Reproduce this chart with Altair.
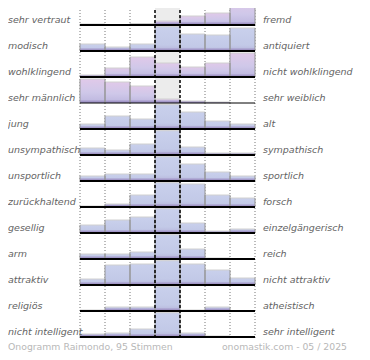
import altair as alt
import pandas as pd

left_labels = ["sehr vertraut", "modisch", "wohlklingend", "sehr männlich", "\u2004jung",
               "unsympathisch", "unsportlich", "zurückhaltend", "gesellig", "arm",
               "attraktiv", "religiös", "nicht intelligent"]
right_labels = ["fremd", "antiquiert", "nicht wohlklingend", "sehr weiblich", "alt",
                "sympathisch", "sportlich", "forsch", "einzelgängerisch", "reich",
                "nicht attraktiv", "atheistisch", "sehr intelligent"]
# bar heights for the 7 answer columns of each row (row height = 26 units; tall bars are clipped)
shares = [
    [1, 0, 1.5, 4, 9, 12, 24],
    [7, 4, 7, 30, 17, 16, 23],
    [2, 9, 20, 14, 10, 14, 24],
    [24, 21, 17, 4, 2, 1, 0],
    [5, 13, 10, 30, 17, 8, 5],
    [7, 5, 11, 30, 8, 2, 2],
    [5, 7, 7, 30, 17, 9, 5],
    [1, 3, 12, 30, 23, 12, 9],
    [8, 13, 16, 30, 10, 2, 4],
    [5, 5, 7, 30, 10, 1, 0],
    [6, 20, 21, 30, 21, 15, 7],
    [1, 4, 4, 30, 1, 4, 0.5],
    [3, 4, 8, 30, 4, 1, 0],
]
pink_rows = [0, 2, 3]
footer_left = "Onogramm Raimondo, 95 Stimmen"
footer_right = "onomastik.com - 05 / 2025"

W, H = 354, 344
ROW = 26.0
CLIP = 24.3
n_rows = len(left_labels)

recs = []
for r, vals in enumerate(shares):
    for c, v in enumerate(vals):
        h = min(v, CLIP)
        recs.append(dict(row=r, col=c, col_end=c + 1, value=v, base=r + 1,
                         top=r + 1 - h / ROW, strip=r + 1 - min(h, 2.5) / ROW,
                         pink=(r in pink_rows), has=(v > 0)))
bars = pd.DataFrame(recs)

xs = alt.Scale(domain=[-72 / 25, (W - 72) / 25], nice=False, zero=False)
ys = alt.Scale(domain=[1 - 17 / ROW, 1 + (H - 17) / ROW], reverse=True, nice=False, zero=False)
y_top = 1 - 17 / ROW - 0.5
y_bottom = n_rows + 3 / ROW


def X(f):
    return alt.X(f, type="quantitative", scale=xs, axis=None)


def Y(f):
    return alt.Y(f, type="quantitative", scale=ys, axis=None)


base = alt.Chart(bars)

# grey middle column
mid_df = pd.DataFrame([dict(x=3, x2=4, y=y_top, y2=n_rows)])
mid = alt.Chart(mid_df).mark_rect(color="#ececec").encode(
    x=X("x"), x2="x2", y=Y("y"), y2="y2")

# dotted column lines
dot_df = pd.DataFrame([dict(x=c, y=y_top, y2=y_bottom) for c in [0, 1, 2, 5, 6, 7]])
dots = alt.Chart(dot_df).mark_rule(color="#777777", strokeDash=[1, 2], strokeWidth=1).encode(
    x=X("x"), y=Y("y"), y2="y2")

blue_grad = alt.Gradient(gradient="linear", x1=0, x2=0, y1=0, y2=1, stops=[
    alt.GradientStop(color="#c9d0ec", offset=0),
    alt.GradientStop(color="#c2c9e7", offset=0.75),
    alt.GradientStop(color="#b6b4da", offset=1)])
pink_grad = alt.Gradient(gradient="linear", x1=0, x2=0, y1=0, y2=1, stops=[
    alt.GradientStop(color="#e0c9e9", offset=0),
    alt.GradientStop(color="#cfc8e9", offset=0.55),
    alt.GradientStop(color="#bcb6de", offset=1)])

bars_blue = base.transform_filter("!datum.pink && datum.has").mark_rect(fill=blue_grad).encode(
    x=X("col"), x2="col_end", y=Y("top"), y2="base")
bars_pink = base.transform_filter("datum.pink && datum.has").mark_rect(fill=pink_grad).encode(
    x=X("col"), x2="col_end", y=Y("top"), y2="base")
strip = base.transform_filter("datum.has").mark_rect(color="#9d90c3", opacity=0.85).encode(
    x=X("col"), x2="col_end", y=Y("strip"), y2="base")
top_edge = base.transform_filter("datum.has").mark_rule(color="#d0d0d0", strokeWidth=1).encode(
    x=X("col"), x2="col_end", y=Y("top"))
left_edge = base.transform_filter("datum.has").mark_rule(color="#959595", strokeWidth=1).encode(
    x=X("col"), y=Y("top"), y2="base")
right_edge = base.transform_filter("datum.has").mark_rule(color="#959595", strokeWidth=1).encode(
    x=X("col_end"), y=Y("top"), y2="base")

# dashed middle lines
dash_df = pd.DataFrame([dict(x=c, y=y_top, y2=y_bottom) for c in [3, 4]])
dashes = alt.Chart(dash_df).mark_rule(color="#000000", strokeDash=[3, 2], strokeWidth=1.5).encode(
    x=X("x"), y=Y("y"), y2="y2")

# baselines
bl_df = pd.DataFrame([dict(x=0, x2=7, y=r + 1, row=r) for r in range(n_rows)])
baselines = alt.Chart(bl_df).mark_rule(color="#000000").encode(
    x=X("x"), x2="x2", y=Y("y"),
    strokeWidth=alt.condition("datum.row == 3", alt.value(1), alt.value(2)))

lab_df = pd.DataFrame([dict(left=l, right=rt, y=r + 1 - 5.5 / ROW,
                            xl=-72 / 25, xr=7 + 8 / 25)
                       for r, (l, rt) in enumerate(zip(left_labels, right_labels))])
txt_kw = dict(baseline="middle", font="DejaVu Sans", fontStyle="italic", fontSize=9.5, color="#636363")
left_txt = alt.Chart(lab_df).mark_text(align="left", **txt_kw).encode(
    x=X("xl"), y=Y("y"), text="left:N")
right_txt = alt.Chart(lab_df).mark_text(align="left", **txt_kw).encode(
    x=X("xr"), y=Y("y"), text="right:N")

foot_df = pd.DataFrame([
    dict(t=footer_left, x=-72 / 25, y=1 + (342 - 17) / ROW),
    dict(t=footer_right, x=(339 - 72) / 25, y=1 + (342 - 17) / ROW),
])
foot_kw = dict(baseline="alphabetic", font="DejaVu Sans", fontSize=9.3, color="#b8b8b8")
foot_l = alt.Chart(foot_df.iloc[[0]]).mark_text(align="left", **foot_kw).encode(
    x=X("x"), y=Y("y"), text="t:N")
foot_r = alt.Chart(foot_df.iloc[[1]]).mark_text(align="right", **foot_kw).encode(
    x=X("x"), y=Y("y"), text="t:N")

chart = alt.layer(
    mid, dots, bars_blue, bars_pink, strip, top_edge, left_edge, right_edge,
    dashes, baselines, left_txt, right_txt, foot_l, foot_r
).properties(
    width=W, height=H, padding=0,
    autosize=alt.AutoSizeParams(type="none"),
    background="white",
).configure_view(stroke=None)

chart.save("out.html", embed_options={"renderer": "svg", "actions": False})
